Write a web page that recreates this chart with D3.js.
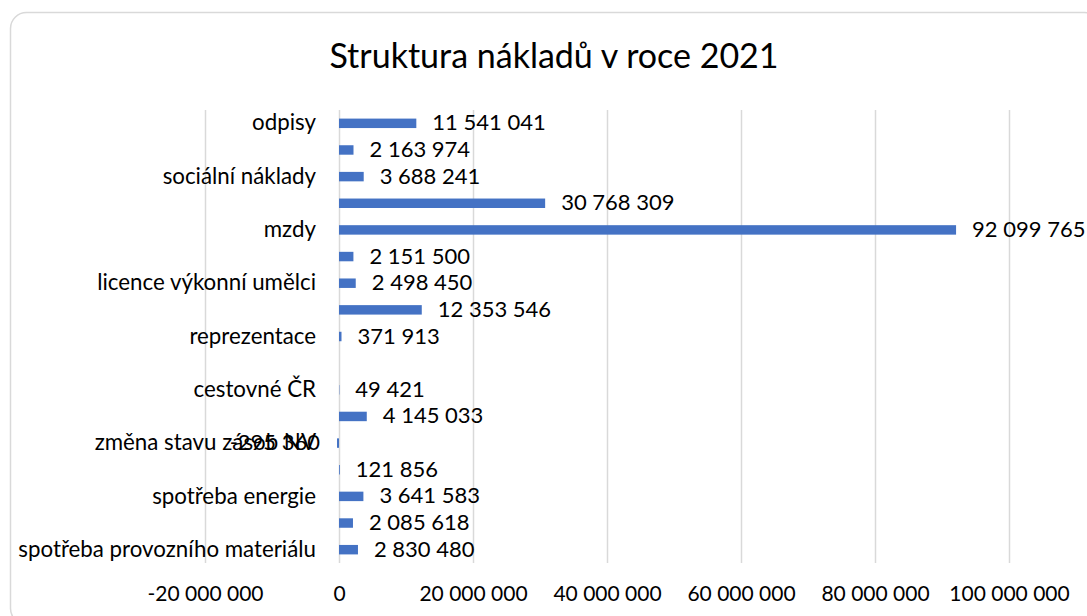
<!DOCTYPE html>
<html>
<head>
<meta charset="utf-8">
<script src="https://cdn.jsdelivr.net/npm/d3@7"></script>
<style>
  body { margin: 0; background: #fff; }
  text { font-family: Lato, "Open Sans", sans-serif; fill: #000; }
</style>
</head>
<body>
<svg id="chart" width="1087" height="616"></svg>
<script>
/* Data (bottom to top, as in the sheet) */
var categories = [
  "spotřeba provozního materiálu", "",
  "spotřeba energie", "",
  "změna stavu zásob NV", "",
  "cestovné ČR", "",
  "reprezentace", "",
  "licence výkonní umělci", "",
  "mzdy", "",
  "sociální náklady", "",
  "odpisy"
];
var values = [
  2830480, 2085618,
  3641583, 121856,
  -295360, 4145033,
  49421, null,
  371913, 12353546,
  2498450, 2151500,
  92099765, 30768309,
  3688241, 2163974,
  11541041
];
var xTicks = [-20000000, 0, 20000000, 40000000, 60000000, 80000000, 100000000];

var locale = d3.formatLocale({ decimal: ",", thousands: " ", grouping: [3], currency: ["", " Kč"], minus: "-" });
var fmt = locale.format(",d");

var svg = d3.select("svg#chart");

/* chart frame */
svg.append("rect")
  .attr("x", 10.5).attr("y", 12.5)
  .attr("width", 1090).attr("height", 612)
  .attr("rx", 16)
  .attr("fill", "#fff")
  .attr("stroke", "#d9d9d9")
  .attr("stroke-width", 1.5);

svg.append("text")
  .attr("x", 554).attr("y", 68)
  .attr("text-anchor", "middle")
  .style("font-size", "34px")
  .text("Struktura nákladů v roce 2021");

/* Scales */
var plotTop = 110, plotBottom = 563;
var x = d3.scaleLinear()
  .domain([-20000000, 100000000])
  .range([205, 1009]);

var y = d3.scaleBand()
  .domain(d3.range(categories.length).reverse())
  .range([plotTop, plotBottom])
  .paddingInner(0.645)
  .paddingOuter(0.3225);

/* gridlines + x labels */
var gx = svg.append("g")
  .attr("transform", "translate(0," + plotBottom + ")")
  .call(d3.axisBottom(x).tickValues(xTicks).tickSize(-(plotBottom - plotTop)).tickPadding(23).tickFormat(fmt));
gx.select(".domain").remove();
gx.selectAll(".tick line").attr("stroke", "#d9d9d9").attr("stroke-width", 1.5);
gx.selectAll(".tick text").style("font-size", "21px").attr("fill", "#000");

/* category labels, every other one like the sheet */
var gy = svg.append("g")
  .attr("transform", "translate(" + x(0) + ",0)")
  .call(d3.axisLeft(y).tickSize(0).tickPadding(23).tickFormat(i => i % 2 === 0 ? categories[i] : ""));
gy.select(".domain").remove();
gy.selectAll(".tick text").style("font-size", "22.3px").attr("fill", "#000");

/* bars */
var rows = values.map((v, i) => ({ i: i, v: v })).filter(d => d.v !== null);

svg.append("g")
  .selectAll("rect")
  .data(rows)
  .enter()
  .append("rect")
  .attr("x", d => x(Math.min(0, d.v)))
  .attr("y", d => y(d.i))
  .attr("width", d => Math.abs(x(d.v) - x(0)))
  .attr("height", y.bandwidth())
  .attr("fill", "#4472c4");

/* value labels */
svg.append("g")
  .selectAll("text")
  .data(rows)
  .enter()
  .append("text")
  .attr("x", d => d.v < 0 ? x(d.v) - 17 : x(d.v) + 16)
  .attr("y", d => y(d.i) + y.bandwidth() / 2)
  .attr("dy", "0.32em")
  .attr("text-anchor", d => d.v < 0 ? "end" : "start")
  .style("font-size", "22px")
  .text(d => fmt(d.v));
</script>
</body>
</html>
